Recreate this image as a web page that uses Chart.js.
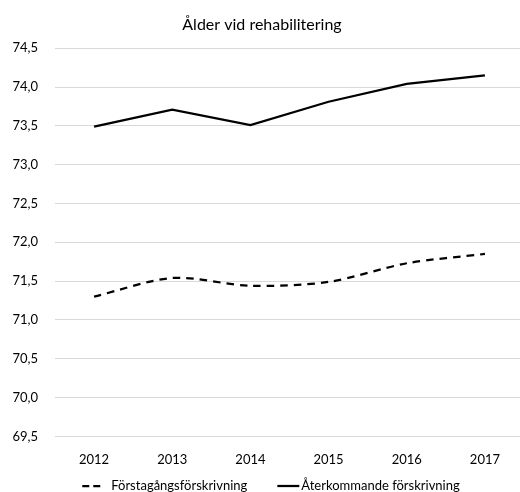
<!DOCTYPE html>
<html>
<head>
<meta charset="utf-8">
<script src="https://cdn.jsdelivr.net/npm/chart.js@4.4.1/dist/chart.umd.min.js"></script>
<style>
  html, body { margin: 0; padding: 0; background: #fff; overflow: hidden; width: 520px; height: 492px; }
  #wrap { width: 526px; height: 492px; }
</style>
</head>
<body>
<div id="wrap"><canvas id="aldersChart" width="526" height="492"></canvas></div>
<script>
// data
const ar = ['2012', '2013', '2014', '2015', '2016', '2017'];
const forstagangs = [71.30, 71.54, 71.44, 71.49, 71.73, 71.85];
const aterkommande = [73.49, 73.71, 73.51, 73.81, 74.04, 74.15];
const yMin = 69.5;
const yMax = 74.5;
const yStep = 0.5;

Chart.defaults.font.family = 'Lato, "Open Sans", sans-serif';
Chart.defaults.color = '#000000';

// egen legend, linjeprov med streckning som i Excel
const legendPlugin = {
    id: 'excelLegend',
    afterDraw(chart) {
        const c = chart.ctx;
        const sets = chart.data.datasets;
        const y = 486;
        const sampleW = [18, 22];
        const gapText = [11, 2];
        const between = 30;
        c.save();
        c.font = '13px Lato, "Open Sans", sans-serif';
        c.textBaseline = 'middle';
        c.fillStyle = '#000000';
        let total = 0;
        sets.forEach((ds, i) => {
            total += sampleW[i] + gapText[i] + c.measureText(ds.label).width;
        });
        total += between * (sets.length - 1);
        let x = 271 - total / 2;
        sets.forEach((ds, i) => {
            c.beginPath();
            c.setLineDash(ds.borderDash ? [7, 4] : []);
            c.lineWidth = ds.borderWidth;
            c.strokeStyle = ds.borderColor;
            c.moveTo(x, y);
            c.lineTo(x + sampleW[i], y);
            c.stroke();
            c.setLineDash([]);
            x += sampleW[i] + gapText[i];
            c.fillText(ds.label, x, y);
            x += c.measureText(ds.label).width + between;
        });
        c.restore();
    }
};

const ctx = document.getElementById('aldersChart').getContext('2d');
const aldersChart = new Chart(ctx, {
    type: 'line',
    data: {
        labels: ar,
        datasets: [
            {
                label: 'Förstagångsförskrivning',
                data: forstagangs,
                borderColor: '#000000',
                backgroundColor: '#000000',
                borderWidth: 2.25,
                borderDash: [7.5, 6],
                pointRadius: 0,
                tension: 0.3,
                fill: false
            },
            {
                label: 'Återkommande förskrivning',
                data: aterkommande,
                borderColor: '#000000',
                backgroundColor: '#000000',
                borderWidth: 2.25,
                pointRadius: 0,
                tension: 0,
                fill: false
            }
        ]
    },
    options: {
        responsive: false,
        animation: false,
        layout: {
            padding: { left: 0, right: 2, top: 0, bottom: 8 }
        },
        plugins: {
            title: {
                display: true,
                text: 'Ålder vid rehabilitering',
                font: { size: 16, weight: 'normal' },
                color: '#000000',
                padding: { top: 15, bottom: 14 }
            },
            legend: { display: false },
            tooltip: { enabled: false }
        },
        scales: {
            y: {
                min: yMin,
                max: yMax,
                afterFit: function (scale) {
                    scale.width = 55
                },
                ticks: {
                    stepSize: yStep,
                    padding: 17,
                    color: '#000000',
                    font: { size: 13 },
                    callback: function (value) {
                        return value.toFixed(1).replace('.', ',')
                    }
                },
                grid: { color: '#d9d9d9', lineWidth: 1, drawTicks: false },
                border: { display: false }
            },
            x: {
                offset: true,
                ticks: {
                    color: '#000000',
                    font: { size: 13 },
                    padding: 16
                },
                grid: { display: false, drawTicks: false },
                border: { color: '#d9d9d9' }
            }
        }
    },
    plugins: [legendPlugin]
});
</script>
</body>
</html>
